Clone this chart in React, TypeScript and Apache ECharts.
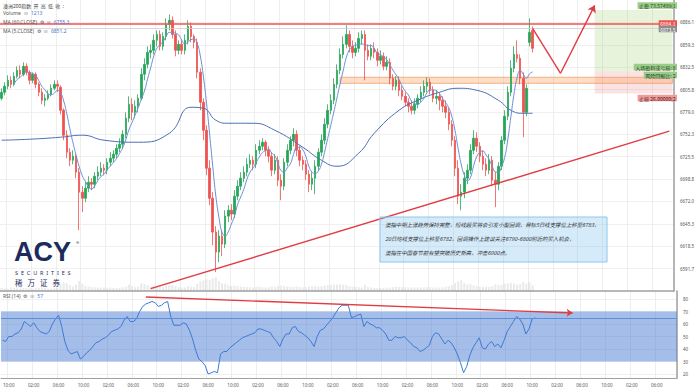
import React, { useEffect, useRef } from 'react';
import * as echarts from 'echarts';

// [open, close, low, high]
const candles: number[][] = [
  [6795.3,6802.5,6792.9,6807.3],[6802.5,6809.7,6798.9,6814.4],[6809.7,6816.8,6806.1,6822.8],[6816.8,6812.0,6807.3,6821.6],
  [6812.0,6821.6,6809.7,6826.4],[6821.6,6828.8,6819.2,6833.5],[6828.8,6824.0,6819.2,6834.7],[6824.0,6833.5,6821.6,6838.3],
  [6833.5,6826.4,6822.8,6837.1],[6826.4,6816.8,6812.0,6828.8],[6816.8,6824.0,6813.2,6826.4],[6824.0,6812.0,6807.3,6826.4],
  [6812.0,6802.5,6797.7,6814.4],[6802.5,6792.9,6788.2,6807.3],[6792.9,6795.3,6785.8,6800.1],[6795.3,6800.1,6792.9,6804.9],
  [6800.1,6807.3,6797.7,6812.0],[6807.3,6812.0,6804.9,6816.8],[6812.0,6809.7,6802.5,6816.8],[6808.5,6781.0,6776.2,6810.8],
  [6781.0,6751.1,6745.2,6783.4],[6751.1,6730.9,6723.7,6757.1],[6730.9,6721.3,6714.1,6735.6],[6721.3,6726.1,6716.5,6733.2],
  [6726.1,6707.0,6699.8,6728.5],[6707.0,6683.1,6637.7,6711.8],[6683.1,6675.9,6659.2,6690.3],[6675.9,6687.9,6671.2,6695.0],
  [6687.9,6695.0,6683.1,6702.2],[6695.0,6692.6,6685.5,6699.8],[6692.6,6702.2,6687.9,6707.0],[6702.2,6707.0,6697.4,6714.1],
  [6707.0,6711.8,6702.2,6718.9],[6711.8,6709.4,6703.4,6716.5],[6709.4,6718.9,6704.6,6723.7],[6718.9,6723.7,6714.1,6730.9],
  [6723.7,6728.5,6718.9,6733.2],[6728.5,6735.6,6723.7,6740.4],[6735.6,6740.4,6730.9,6747.6],[6740.4,6752.3,6735.6,6757.1],
  [6752.3,6771.5,6747.6,6778.6],[6771.5,6788.2,6766.7,6797.7],[6788.2,6778.6,6769.1,6795.3],[6778.6,6785.8,6771.5,6792.9],
  [6785.8,6795.3,6778.6,6800.1],[6795.3,6824.0,6792.9,6831.1],[6824.0,6835.9,6816.8,6843.1],[6835.9,6850.2,6831.1,6857.4],
  [6850.2,6852.6,6843.1,6859.8],[6852.6,6864.6,6847.8,6871.7],[6864.6,6871.7,6857.4,6876.5],[6871.7,6857.4,6852.6,6876.5],
  [6857.4,6869.3,6852.6,6874.1],[6869.3,6883.7,6864.6,6890.8],[6883.7,6888.5,6876.5,6895.6],[6888.5,6871.7,6866.9,6893.2],
  [6871.7,6852.6,6845.5,6876.5],[6852.6,6859.8,6847.8,6864.6],[6859.8,6852.6,6847.8,6864.6],[6852.6,6864.6,6847.8,6871.7],
  [6864.6,6881.3,6859.8,6888.5],[6881.3,6869.3,6862.2,6886.1],[6869.3,6862.2,6855.0,6871.7],[6862.2,6826.4,6819.2,6866.9],
  [6826.4,6790.6,6781.0,6831.1],[6790.6,6757.1,6745.2,6795.3],[6757.1,6711.8,6703.4,6763.1],[6711.8,6675.9,6667.6,6721.3],
  [6675.9,6635.4,6619.8,6683.1],[6635.4,6611.5,6587.6,6642.5],[6611.5,6630.6,6599.5,6637.7],[6630.6,6621.0,6606.7,6637.7],
  [6621.0,6654.5,6616.2,6661.6],[6654.5,6661.6,6647.3,6667.6],[6661.6,6656.9,6649.7,6668.8],[6656.9,6678.3,6652.1,6685.5],
  [6678.3,6690.3,6673.5,6697.4],[6690.3,6699.8,6685.5,6707.0],[6699.8,6707.0,6695.0,6714.1],[6707.0,6716.5,6702.2,6723.7],
  [6716.5,6721.3,6711.8,6728.5],[6721.3,6716.5,6709.4,6726.1],[6716.5,6733.2,6711.8,6740.4],[6733.2,6738.0,6728.5,6745.2],
  [6738.0,6742.8,6733.2,6747.6],[6742.8,6733.2,6726.1,6745.2],[6733.2,6726.1,6718.9,6738.0],[6726.1,6709.4,6702.2,6730.9],
  [6709.4,6721.3,6704.6,6728.5],[6721.3,6697.4,6690.3,6726.1],[6697.4,6690.3,6673.5,6704.6],[6690.3,6718.9,6685.5,6723.7],
  [6718.9,6733.2,6714.1,6740.4],[6733.2,6745.2,6728.5,6750.0],[6745.2,6752.3,6738.0,6759.5],[6752.3,6733.2,6726.1,6757.1],
  [6733.2,6721.3,6714.1,6738.0],[6721.3,6716.5,6709.4,6726.1],[6716.5,6704.6,6697.4,6721.3],[6704.6,6692.6,6683.1,6709.4],
  [6692.6,6699.8,6685.5,6707.0],[6699.8,6714.1,6680.7,6721.3],[6714.1,6730.9,6709.4,6735.6],[6730.9,6745.2,6726.1,6752.3],
  [6745.2,6764.3,6740.4,6771.5],[6764.3,6781.0,6759.5,6788.2],[6781.0,6792.9,6776.2,6800.1],[6792.9,6812.0,6788.2,6819.2],
  [6812.0,6828.8,6807.3,6835.9],[6828.8,6847.8,6824.0,6855.0],[6847.8,6859.8,6843.1,6869.3],[6859.8,6871.7,6855.0,6882.5],
  [6871.7,6857.4,6850.2,6876.5],[6857.4,6850.2,6843.1,6864.6],[6850.2,6855.0,6845.5,6862.2],[6855.0,6866.9,6850.2,6874.1],
  [6866.9,6871.7,6859.8,6876.5],[6871.7,6852.6,6816.8,6876.5],[6852.6,6845.5,6840.7,6859.8],[6845.5,6855.0,6840.7,6859.8],
  [6855.0,6850.2,6843.1,6862.2],[6850.2,6840.7,6833.5,6855.0],[6840.7,6845.5,6835.9,6852.6],[6845.5,6833.5,6828.8,6850.2],
  [6833.5,6838.3,6828.8,6845.5],[6838.3,6819.2,6812.0,6843.1],[6819.2,6809.7,6804.9,6824.0],[6809.7,6816.8,6804.9,6821.6],
  [6816.8,6804.9,6797.7,6821.6],[6804.9,6797.7,6792.9,6809.7],[6797.7,6790.6,6785.8,6802.5],[6790.6,6785.8,6778.6,6795.3],
  [6785.8,6781.0,6776.2,6792.9],[6781.0,6788.2,6776.2,6795.3],[6788.2,6795.3,6783.4,6800.1],[6795.3,6802.5,6790.6,6809.7],
  [6802.5,6809.7,6797.7,6816.8],[6809.7,6814.4,6802.5,6820.4],[6814.4,6804.9,6800.1,6819.2],[6804.9,6795.3,6790.6,6809.7],
  [6795.3,6797.7,6788.2,6804.9],[6797.7,6792.9,6781.0,6802.5],[6792.9,6785.8,6778.6,6797.7],[6785.8,6778.6,6771.5,6792.9],
  [6778.6,6764.3,6757.1,6783.4],[6764.3,6745.2,6738.0,6769.1],[6745.2,6711.8,6702.2,6750.0],[6711.8,6678.3,6668.8,6721.3],
  [6678.3,6683.1,6661.6,6692.6],[6683.1,6699.8,6675.9,6707.0],[6699.8,6709.4,6692.6,6716.5],[6709.4,6733.2,6704.6,6740.4],
  [6733.2,6747.6,6728.5,6757.1],[6747.6,6738.0,6730.9,6754.7],[6738.0,6726.1,6718.9,6742.8],[6726.1,6716.5,6709.4,6733.2],
  [6716.5,6709.4,6702.2,6723.7],[6709.4,6721.3,6704.6,6728.5],[6721.3,6697.4,6690.3,6726.1],[6697.4,6692.6,6665.2,6707.0],
  [6692.6,6714.1,6685.5,6718.9],[6714.1,6745.2,6709.4,6750.0],[6745.2,6773.8,6740.4,6781.0],[6773.8,6802.5,6769.1,6809.7],
  [6802.5,6831.1,6797.7,6840.7],[6831.1,6847.8,6826.4,6857.4],[6847.8,6843.1,6838.3,6864.6],[6843.1,6819.2,6812.0,6847.8],
  [6819.2,6778.6,6748.8,6826.4],[6778.6,6807.3,6773.8,6812.0],[6862.2,6874.1,6857.4,6890.8],[6876.5,6855.0,6850.2,6881.3]
];

const volumes: number[] = [
  600,520,480,700,650,560,500,620,580,540,500,610,680,720,560,520,480,600,640,
  1400,1800,1600,1200,900,1300,2100,
  1500,1100,900,800,760,700,680,720,650,700,640,600,680,720,900,1300,1000,800,900,
  1600,1400,1200,900,1000,800,950,850,1100,1300,1200,1000,800,700,750,1000,900,800,
  1500,2000,2200,2400,2300,2600,2800,2000,1600,
  1500,1200,1000,1100,1000,900,850,800,760,700,800,900,750,700,720,900,850,1000,1100,
  1000,900,800,850,900,800,760,820,900,950,1000,900,1000,1100,1200,1250,1300,1350,1400,1300,1200,
  1000,900,850,800,700,1200,800,700,650,600,640,620,700,680,800,900,850,800,760,740,700,680,720,700,760,820,780,700,680,720,760,900,1000,1200,
  1600,2000,2200,1600,1300,1400,1200,1000,900,850,900,850,1000,1400,1200,1300,1500,1600,1700,1500,1300,1400,1900,1500,1800,1213
];

const rsiValues: number[] = [
  47,46,50,50,52,53,56,62,60,58, 61,57,54,53,52,54,60,64,67,58,
  46,39,36,37,38,32,34,37,39,42, 45,46,48,49,51,54,55,56,58,63,
  66,62,62,64,70,74,76,77,78,77, 74,75,77,78,66,59,59,59,61,60,
  55,48,39,32,30,27,20,21,22,21, 36,38,38,41,43,45,47,49,50,51,
  52,53,56,56,55,54,53,49,46,42, 48,52,52,57,58,54,53,51,49,46,
  42,50,55,56,59,62,65,69,73,75, 75,75,65,66,67,68,58,62,60,59,
  57,57,55,52,47,47,50,49,49,50, 47,45,42,41,38,39,41,43,50,53,
  52,48,44,47,45,41,36,29,21,26, 35,41,45,49,41,40,44,46,42,44,
  41,47,54,58,62,66,64,60,52,56, 64,65
];

const ma60Index: number[] = [0,9,19,26,33,44,54,61,65,69,73,81,88,97,103,108,115,120,128,134,141,147,153,160,164,168,171];
const ma60Values: number[] = [6745.2,6746.4,6748.8,6751.2,6745.2,6742.8,6753.5,6784.6,6783.4,6769.1,6765.5,6765.5,6757.1,6736.8,6721.3,6714.1,6729.7,6753.5,6781.0,6792.9,6802.5,6807.3,6804.9,6792.9,6781.0,6777.4,6777.4];

const timeLabels: string[] = [
  '10:00','02:00','06:00','10:00','02:00','06:00','10:00','02:00','06:00','10:00','02:00','06:00','10:00','02:00',
  '06:00','10:00','02:00','06:00','10:00','02:00','06:00','10:00','02:00','06:00','10:00','02:00','06:00'
];

const CAT_COUNT = 217;
const LABEL_FIRST = 2;
const LABEL_STEP = 8;

const Y_STEP = 26.756;
const Y_MIN = 6564.984;
const Y_MAX = 6912.812;

const resistanceLevel = 6884.1;
const lastPriceLevel = 6878.9;
const supportZone = [6820.5, 6813.2];
const positionLevels = { target: 6900.8, entry: 6827.2, stop: 6801.2 };
const trendLine = [[48, 6567.8], [215, 6756.0]];
const projection = [[171, 6878.9], [180, 6825.2], [191, 6906.4]];
const rsiArrow = [[46, 81.6], [183, 68.8]];
const zoneStart = 109;
const toolStart = 191;
const lastCat = 216;

const FONT = '"Noto Sans", "Noto Sans CJK SC", sans-serif';
const CJK = '"Noto Sans CJK SC", "Noto Sans", sans-serif';
const UP = '#26a65b';
const DOWN = '#ef5350';

const isLabel = (i: number) => i >= LABEL_FIRST && (i - LABEL_FIRST) % LABEL_STEP === 0;

export default function App() {
  const ref = useRef<HTMLDivElement>(null);
  useEffect(() => {
    if (!ref.current) return;
    const chart = echarts.init(ref.current, null, { renderer: 'svg' });
    const categories = Array.from({ length: CAT_COUNT }, (_, i) => String(i));
    const closes = candles.map((c) => c[1]);
    const ma5 = closes.map((_, i) =>
      i < 4 ? null : Math.round((closes.slice(i - 4, i + 1).reduce((a, b) => a + b, 0) / 5) * 10) / 10
    );
    const ma60 = ma60Index.map((idx, k) => [idx, ma60Values[k]]);

    const legendText = (y: number, label: string, value: string) => ({
      type: 'text',
      x: 3,
      y,
      style: {
        text: `{a|${label}}{b|${value}}`,
        verticalAlign: 'middle',
        rich: {
          a: { fontSize: 5, fontFamily: FONT, fill: '#555' },
          b: { fontSize: 5, fontFamily: FONT, fill: '#4a76c9' },
        },
      },
      z: 50,
    });

    const boxLabel = (y: number, text: string, bg: string, color: string) => ({
      type: 'text',
      x: 677,
      y,
      style: {
        text,
        align: 'right',
        verticalAlign: 'middle',
        fontSize: 5,
        fontFamily: CJK,
        fill: color,
        backgroundColor: bg,
        padding: [1, 1.5, 0.5, 1.5],
      },
      z: 50,
    });

    const option: any = {
      animation: false,
      backgroundColor: '#ffffff',
      textStyle: { fontFamily: FONT },
      grid: [
        { left: 0, top: 0, width: 677, height: 291 },
        { left: 0, top: 291, width: 677, height: 87 },
      ],
      xAxis: [
        {
          type: 'category', gridIndex: 0, data: categories, boundaryGap: true,
          axisLine: { show: true, lineStyle: { color: '#a0a0a0', width: 1.5 } },
          axisTick: { show: false }, axisLabel: { show: false },
          splitLine: { show: true, interval: (i: number) => isLabel(i), lineStyle: { color: '#eeeeee', width: 1 } },
        },
        {
          type: 'category', gridIndex: 1, data: categories, boundaryGap: true,
          axisLine: { show: true, lineStyle: { color: '#a0a0a0', width: 1 } },
          axisTick: { show: false },
          axisLabel: {
            show: true, interval: (i: number) => isLabel(i), fontSize: 4.5, color: '#555', margin: 5,
            formatter: (_v: string, idx: number) => timeLabels[(idx - LABEL_FIRST) / LABEL_STEP] ?? '',
          },
          splitLine: { show: true, interval: (i: number) => isLabel(i), lineStyle: { color: '#eeeeee', width: 1 } },
        },
      ],
      yAxis: [
        {
          type: 'value', gridIndex: 0, position: 'right', min: Y_MIN, max: Y_MAX, interval: Y_STEP,
          axisLine: { show: true, lineStyle: { color: '#a0a0a0', width: 1.5 } },
          axisTick: { show: false },
          axisLabel: {
            fontSize: 4.5, color: '#555', margin: 6, showMinLabel: false, showMaxLabel: false,
            formatter: (v: number) => v.toFixed(1),
          },
          splitLine: { show: true, showMinLine: false, showMaxLine: false, lineStyle: { color: '#f0f0f0', width: 1 } },
        },
        { type: 'value', gridIndex: 0, min: 0, max: 60000, show: false },
        {
          type: 'value', gridIndex: 1, position: 'right', min: 16.8, max: 86.4, minInterval: 10, maxInterval: 10,
          axisLine: { show: true, lineStyle: { color: '#a0a0a0', width: 1.5 } },
          axisTick: { show: false },
          axisLabel: { fontSize: 4.5, color: '#555', margin: 6, showMinLabel: false, showMaxLabel: false },
          splitLine: { show: true, showMinLine: false, showMaxLine: false, lineStyle: { color: '#f0f0f0', width: 1 } },
        },
      ],
      series: [
        {
          name: 'Volume', type: 'bar', xAxisIndex: 0, yAxisIndex: 1, data: volumes, barWidth: 2,
          itemStyle: { color: 'rgba(150,150,150,0.2)' }, silent: true, z: 1,
        },
        {
          name: '澳洲200指数', type: 'candlestick', xAxisIndex: 0, yAxisIndex: 0, data: candles, barWidth: 2,
          itemStyle: { color: UP, color0: DOWN, borderColor: UP, borderColor0: DOWN, borderWidth: 0.8 },
          z: 3,
          markArea: {
            silent: true,
            data: [
              [
                { coord: [toolStart, positionLevels.target], itemStyle: { color: 'rgba(139,195,74,0.2)' } },
                { coord: [lastCat, positionLevels.entry] },
              ],
              [
                { coord: [toolStart, positionLevels.entry], itemStyle: { color: 'rgba(239,83,80,0.16)' } },
                { coord: [lastCat, positionLevels.stop] },
              ],
              [
                {
                  coord: [zoneStart, supportZone[0]],
                  itemStyle: { color: 'rgba(245,160,100,0.35)', borderColor: 'rgba(240,140,70,0.8)', borderWidth: 0.8 },
                },
                { coord: [lastCat, supportZone[1]] },
              ],
            ],
          },
          markLine: {
            silent: true, symbol: ['none', 'none'], label: { show: false },
            data: [
              { yAxis: resistanceLevel, lineStyle: { color: '#ef5350', width: 1.6, type: 'solid' } },
              { yAxis: lastPriceLevel, lineStyle: { color: '#cfcfcf', width: 0.8, type: 'solid' } },
              [
                { coord: trendLine[0], lineStyle: { color: '#e03c43', width: 1.4, type: 'solid' } },
                { coord: trendLine[1] },
              ],
              [
                { coord: projection[0], lineStyle: { color: '#e03c43', width: 1.4, type: 'solid' } },
                { coord: projection[1] },
              ],
              [
                { coord: projection[1], lineStyle: { color: '#e03c43', width: 1.4, type: 'solid' } },
                { coord: projection[2], symbol: 'arrow', symbolSize: 7 },
              ],
            ],
          },
        },
        {
          name: 'MA (60,CLOSE)', type: 'line', xAxisIndex: 0, yAxisIndex: 0, data: ma60, smooth: true,
          showSymbol: false, symbol: 'none', lineStyle: { color: '#4b6fb5', width: 1 }, z: 4,
        },
        {
          name: 'MA (5,CLOSE)', type: 'line', xAxisIndex: 0, yAxisIndex: 0, data: ma5, smooth: true,
          showSymbol: false, symbol: 'none', lineStyle: { color: '#6a8fd6', width: 1 }, z: 4,
        },
        {
          name: 'RSI (14)', type: 'line', xAxisIndex: 1, yAxisIndex: 2, data: rsiValues,
          showSymbol: false, symbol: 'none', lineStyle: { color: '#3f78d4', width: 1 }, z: 4,
          markArea: {
            silent: true,
            data: [[{ yAxis: 30, itemStyle: { color: 'rgba(66,120,210,0.48)' } }, { yAxis: 70 }]],
          },
          markLine: {
            silent: true, symbol: ['none', 'none'], label: { show: false },
            data: [
              { yAxis: 65, lineStyle: { color: '#5d8fd8', width: 1, type: 'solid' } },
              [
                { coord: rsiArrow[0], lineStyle: { color: '#e03c43', width: 1.4, type: 'solid' } },
                { coord: rsiArrow[1], symbol: 'arrow', symbolSize: 6 },
              ],
            ],
          },
        },
      ],
      graphic: [
        {
          type: 'text', x: 3, y: 5, z: 50,
          style: { text: '澳洲200指数  开  高  低  收  :', fontSize: 5, fontFamily: CJK, fill: '#444', verticalAlign: 'middle' },
        },
        legendText(13, 'Volume  ≡  ', '1213'),
        legendText(22, 'MA (60,CLOSE)  ⚙  ≡  ', '6755.3'),
        legendText(31, 'MA (5,CLOSE)  ⚙  ≡  ', '6851.2'),
        legendText(296, 'RSI (14)  ⚙  ≡  ', '57'),
        boxLabel(5.5, '止盈 73.57499(1', '#9ccc8a', '#1e3d1a'),
        boxLabel(67, '入场盈利或亏损: 8', '#9ccc8a', '#1e3d1a'),
        boxLabel(75, '风险回报比: 2', '#9ccc8a', '#1e3d1a'),
        boxLabel(98, '止损 26.00000(2', '#f19c9a', '#4a1515'),
        boxLabel(23.5, '6884.1', '#ef5350', '#ffffff'),
        boxLabel(29, '6873.5', '#8c8c8c', '#ffffff'),
        {
          type: 'rect', z: 40,
          shape: { x: 380, y: 217, width: 227, height: 45 },
          style: { fill: 'rgba(120,190,240,0.3)', stroke: '#8cc8ee', lineWidth: 1 },
        },
        {
          type: 'text', x: 385, y: 225, z: 41,
          style: { text: '澳指中期上涨趋势保持完整，短线超买将会引发小型回调，目标5日线支撑位上移至6783，', fontSize: 5.4, fontFamily: CJK, fontStyle: 'italic', fill: '#333', verticalAlign: 'middle' },
        },
        {
          type: 'text', x: 385, y: 239, z: 41,
          style: { text: '20日均线支撑位上移至6782，回调操作上建议关注6790-6800附近的买入机会，', fontSize: 5.4, fontFamily: CJK, fontStyle: 'italic', fill: '#333', verticalAlign: 'middle' },
        },
        {
          type: 'text', x: 385, y: 253, z: 41,
          style: { text: '澳指在中国春节前有望突破历史新高，冲击6900点。', fontSize: 5.4, fontFamily: CJK, fontStyle: 'italic', fill: '#333', verticalAlign: 'middle' },
        },
        {
          type: 'text', x: 14, y: 252, z: 45,
          style: { text: 'ACY', fontSize: 27, lineHeight: 22, fontWeight: 900, fontFamily: '"Liberation Sans", Arial, sans-serif', fill: '#1d2b5c', verticalAlign: 'middle' },
        },
        {
          type: 'text', x: 76, y: 242, z: 45,
          style: { text: '®', fontSize: 4, fontFamily: FONT, fill: '#1d2b5c', verticalAlign: 'middle' },
        },
        {
          type: 'text', x: 15, y: 272.5, z: 45,
          style: { text: 'S  E  C  U  R  I  T  I  E  S', fontSize: 5.5, fontFamily: FONT, fill: '#1d2b5c', verticalAlign: 'middle' },
        },
        {
          type: 'text', x: 15, y: 282, z: 45,
          style: { text: '稀   万   证   券', fontSize: 7.5, fontFamily: CJK, fill: '#1d2b5c', verticalAlign: 'middle' },
        },
      ],
    };
    chart.setOption(option);
    return () => chart.dispose();
  }, []);
  return <div ref={ref} style={{ position: 'fixed', left: 0, top: 0, width: 697, height: 392 }} />;
}
